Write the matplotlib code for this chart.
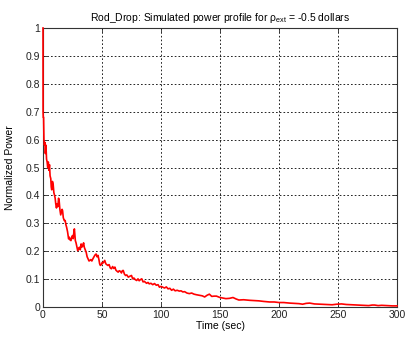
import matplotlib
matplotlib.use("Agg")
import matplotlib.pyplot as plt

plt.rcParams['font.family'] = ['Liberation Sans', 'DejaVu Sans']
plt.rcParams['mathtext.fontset'] = 'custom'
plt.rcParams['mathtext.rm'] = 'Liberation Sans'

# simulated power after the rod drop (time in sec, normalized power)
time_sec = [0.0, 0.05, 0.2, 0.5, 0.8, 1.2, 1.6, 2.0, 2.5, 3.0,
            3.5, 4.0, 4.5, 5.0, 5.5, 6.0, 6.6, 7.0, 7.4, 8.0,
            8.6, 9.2, 9.8, 10.3, 10.8, 11.4, 12.0, 12.6, 13.2, 13.7,
            14.3, 15.0, 15.6, 16.2, 16.6, 17.2, 18.0, 18.8, 19.4, 20.0,
            20.8, 21.7, 22.4, 23.0, 23.7, 24.4, 25.0, 25.6, 26.2, 26.6,
            27.0, 27.4, 28.0, 28.7, 29.4, 30.1, 30.9, 31.6, 32.3, 33.0,
            33.7, 34.4, 35.0, 35.8, 36.6, 37.4, 38.2, 39.0, 39.8, 40.6,
            41.4, 42.3, 43.2, 44.0, 45.0, 45.8, 46.6, 47.4, 48.0, 48.6,
            49.4, 50.2, 51.0, 52.3, 53.2, 54.0, 55.0, 56.0, 57.0, 58.0,
            59.0, 60.0, 60.9, 61.8, 62.8, 63.7, 64.6, 65.5, 66.5, 67.2,
            68.0, 69.0, 70.0, 71.0, 72.3, 73.5, 75.0, 76.0, 77.0, 78.2,
            79.4, 80.5, 81.5, 82.5, 83.7, 84.8, 86.0, 86.6, 87.8, 89.0,
            90.0, 91.5, 93.0, 94.5, 96.0, 97.5, 98.7, 100.0, 101.5, 103.0,
            104.5, 106.0, 107.5, 109.0, 110.5, 112.0, 113.7, 115.5, 117.0, 118.5,
            120.0, 122.0, 124.0, 126.0, 128.0, 130.0, 132.6, 135.0, 137.0, 139.0,
            141.0, 143.0, 145.0, 147.0, 150.0, 152.5, 155.0, 158.0, 161.0, 163.5,
            166.0, 170.0, 175.0, 179.0, 183.0, 187.0, 192.0, 196.0, 200.0, 204.0,
            209.0, 213.0, 217.0, 220.0, 223.0, 226.0, 230.0, 235.0, 240.0, 245.0,
            249.0, 253.0, 257.0, 262.0, 268.0, 272.0, 276.0, 279.0, 281.0, 284.0,
            287.0, 292.0, 296.0, 300.0]
power = [1.0, 0.70, 0.68, 0.68, 0.60, 0.58, 0.59, 0.55, 0.58, 0.53,
         0.52, 0.50, 0.52, 0.49, 0.51, 0.47, 0.46, 0.43, 0.42, 0.45,
         0.44, 0.41, 0.40, 0.39, 0.37, 0.355, 0.37, 0.36, 0.39, 0.38,
         0.35, 0.33, 0.34, 0.35, 0.345, 0.32, 0.31, 0.31, 0.295, 0.286,
         0.27, 0.244, 0.25, 0.24, 0.238, 0.25, 0.256, 0.245, 0.27, 0.28,
         0.26, 0.238, 0.23, 0.215, 0.202, 0.21, 0.214, 0.205, 0.226, 0.215,
         0.22, 0.23, 0.214, 0.205, 0.196, 0.18, 0.172, 0.165, 0.167, 0.17,
         0.165, 0.173, 0.18, 0.186, 0.19, 0.18, 0.185, 0.17, 0.155, 0.149,
         0.152, 0.16, 0.158, 0.167, 0.155, 0.152, 0.149, 0.152, 0.14, 0.137,
         0.145, 0.138, 0.143, 0.132, 0.128, 0.125, 0.13, 0.128, 0.122, 0.13,
         0.131, 0.118, 0.113, 0.115, 0.107, 0.11, 0.113, 0.101, 0.104, 0.098,
         0.095, 0.101, 0.094, 0.098, 0.101, 0.09, 0.092, 0.089, 0.085, 0.088,
         0.083, 0.085, 0.08, 0.084, 0.078, 0.08, 0.071, 0.074, 0.071, 0.068,
         0.072, 0.065, 0.067, 0.06, 0.064, 0.058, 0.06, 0.057, 0.058, 0.054,
         0.055, 0.05, 0.048, 0.05, 0.046, 0.044, 0.042, 0.04, 0.036, 0.042,
         0.046, 0.038, 0.039, 0.039, 0.034, 0.032, 0.03, 0.031, 0.034, 0.029,
         0.025, 0.026, 0.024, 0.023, 0.022, 0.02, 0.018, 0.018, 0.016, 0.016,
         0.014, 0.013, 0.012, 0.010, 0.013, 0.014, 0.011, 0.010, 0.009, 0.008,
         0.010, 0.011, 0.009, 0.008, 0.007, 0.006, 0.005, 0.007, 0.007, 0.005,
         0.006, 0.005, 0.004, 0.004]

x_ticks = [0, 50, 100, 150, 200, 250, 300]
y_ticks = [0, 0.1, 0.2, 0.3, 0.4, 0.5, 0.6, 0.7, 0.8, 0.9, 1]
y_labels = ['0', '0.1', '0.2', '0.3', '0.4', '0.5', '0.6', '0.7', '0.8', '0.9', '1']

fig = plt.figure(figsize=(4.06, 3.38), dpi=100)
ax = fig.add_axes([43 / 406, 31 / 338, 354 / 406, 279 / 338])

# drawn over the left spine so the prompt drop at t=0 shows
ax.plot(time_sec, power, color='red', lw=1.2, zorder=5, clip_on=False)

ax.set_xlim(0, 300)
ax.set_ylim(0, 1)
ax.set_xticks(x_ticks)
ax.set_yticks(y_ticks)
ax.set_yticklabels(y_labels)
ax.tick_params(direction='in', length=3, width=0.6, labelsize=7.5, pad=2,
               top=True, right=True, colors='#222222')
ax.grid(True, color='black', linestyle=(0, (2, 2.5)), linewidth=0.6)
for s in ax.spines.values():
    s.set_linewidth(0.8)
    s.set_color('#333333')

ax.set_xlabel('Time (sec)', fontsize=7.5, labelpad=1)
ax.set_ylabel('Normalized Power', fontsize=7.5, labelpad=8)
ax.set_title(r'Rod_Drop: Simulated power profile for ρ$_{\mathrm{ext}}$ = -0.5 dollars',
             fontsize=7.5, pad=5)

fig.savefig('out.png', dpi=100)
